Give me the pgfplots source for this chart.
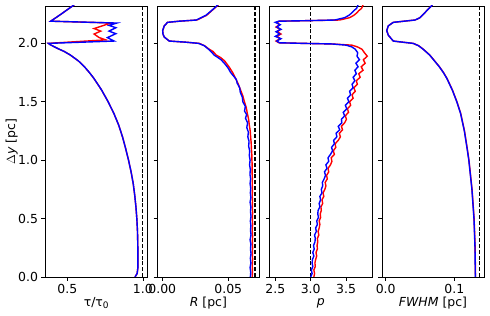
\documentclass[border=0pt]{standalone}
\usepackage{pgfplots}
\pgfplotsset{compat=1.18}
\usepackage{fontspec}
\setmainfont{DejaVu Sans}[ItalicFont={DejaVu Sans Oblique}]
\begin{document}
\begin{tikzpicture}
\useasboundingbox (0bp,0bp) rectangle (490bp,316bp);
\pgfplotsset{
  panel/.style={
    anchor=south west, scale only axis, width=102.4bp, height=271bp,
    ymin=0, ymax=2.32,
    ytick={0,0.5,1,1.5,2}, yticklabels={},
    scaled x ticks=false, scaled y ticks=false,
    tick align=outside, xtick pos=bottom, ytick pos=left,
    major tick length=3.5bp,
    every tick/.style={black, line width=0.6bp},
    axis line style={black, line width=0.6bp},
    tick label style={font=\fontsize{12.5}{14}\selectfont},
    label style={font=\fontsize{12.5}{14}\selectfont},
    /pgf/number format/assume math mode=true,
    xlabel style={at={(axis description cs:0.5,-0.097)}, anchor=center},
    clip=true,
  },
  rl/.style={red, line width=1.4bp},
  bl/.style={blue, line width=1.4bp},
  dl/.style={black, line width=1.1bp, dash pattern=on 4bp off 1.8bp},
}

% ---------- Panel 1: tau/tau0 ----------
\begin{axis}[panel, at={(45bp,39bp)}, xmin=0.352, xmax=1.03,
  xtick={0.5,1.0}, xticklabels={0.5,1.0},
  yticklabels={0.0,0.5,1.0,1.5,2.0},
  ylabel={$\Delta$\textit{y} [pc]}, ylabel style={at={(axis description cs:-0.325,0.5)}, anchor=center},
  xlabel={τ/τ\raisebox{-0.35ex}{\fontsize{9}{9}\selectfont 0}}]
\addplot[dl] coordinates {(1.0,0) (1.0,2.32)};
\addplot[rl] coordinates {
(0.948,0.00) (0.962,0.03) (0.967,0.08) (0.967,0.2) (0.966,0.3) (0.964,0.4) (0.960,0.5)
(0.954,0.6) (0.946,0.7) (0.936,0.8) (0.922,0.9) (0.905,1.0) (0.886,1.1) (0.865,1.2)
(0.840,1.3) (0.808,1.4) (0.770,1.5) (0.727,1.6) (0.676,1.7) (0.646,1.75) (0.613,1.8)
(0.573,1.85) (0.520,1.9) (0.480,1.93) (0.430,1.96) (0.385,1.99) (0.375,2.0)
(0.754,2.03) (0.710,2.05) (0.677,2.08) (0.721,2.105) (0.677,2.127) (0.732,2.15)
(0.765,2.165) (0.810,2.174) (0.390,2.19) (0.456,2.248) (0.545,2.33)};
\addplot[bl] coordinates {
(0.948,0.00) (0.962,0.03) (0.967,0.08) (0.967,0.2) (0.966,0.3) (0.964,0.4) (0.960,0.5)
(0.954,0.6) (0.946,0.7) (0.936,0.8) (0.922,0.9) (0.905,1.0) (0.886,1.1) (0.865,1.2)
(0.840,1.3) (0.808,1.4) (0.770,1.5) (0.727,1.6) (0.676,1.7) (0.646,1.75) (0.613,1.8)
(0.573,1.85) (0.520,1.9) (0.480,1.93) (0.430,1.96) (0.385,1.99) (0.375,2.0)
(0.810,2.02) (0.765,2.049) (0.821,2.083) (0.776,2.105) (0.821,2.134) (0.776,2.154)
(0.827,2.174) (0.390,2.19) (0.456,2.248) (0.545,2.33)};
\end{axis}

% ---------- Panel 2: R ----------
\begin{axis}[panel, at={(157.2bp,39bp)}, xmin=-0.00386, xmax=0.0737,
  xtick={0,0.05}, xticklabels={0.00,0.05},
  xlabel={\textit{R} [pc]}]
\addplot[dl] coordinates {(0.0702,0) (0.0702,2.32)};
\addplot[rl] coordinates {
(0.0681,0.00) (0.0683,0.05) (0.0681,0.10) (0.0684,0.15) (0.0682,0.20) (0.0684,0.25)
(0.0682,0.30) (0.0684,0.35) (0.0681,0.40) (0.0684,0.45) (0.0682,0.50) (0.0684,0.55)
(0.0682,0.60) (0.0683,0.65) (0.0681,0.70) (0.0683,0.75) (0.0681,0.80) (0.0682,0.85)
(0.0680,0.90) (0.0681,0.95) (0.0679,1.00) (0.0678,1.05) (0.0675,1.10) (0.0673,1.15)
(0.0669,1.20) (0.0666,1.25) (0.0659,1.30) (0.0654,1.35) (0.0644,1.40) (0.0636,1.45)
(0.0622,1.50) (0.0610,1.55) (0.0593,1.60) (0.0576,1.65) (0.0555,1.70) (0.0533,1.75)
(0.0505,1.80) (0.0472,1.85) (0.0440,1.88) (0.0408,1.90) (0.0385,1.93) (0.0355,1.95)
(0.0320,1.98) (0.0280,2.00) (0.0180,2.01) (0.0053,2.02) (0.0015,2.054) (0.0005,2.08)
(0.0003,2.11) (0.0015,2.15) (0.0040,2.18) (0.0130,2.19) (0.0262,2.20) (0.0335,2.24)
(0.0375,2.28) (0.0425,2.33)};
\addplot[bl] coordinates {
(0.0667,0.00) (0.0670,0.04) (0.0665,0.08) (0.0671,0.12) (0.0667,0.16) (0.0672,0.20)
(0.0668,0.24) (0.0671,0.28) (0.0665,0.32) (0.0672,0.36) (0.0668,0.40) (0.0671,0.44)
(0.0667,0.48) (0.0672,0.52) (0.0668,0.56) (0.0671,0.60) (0.0665,0.64) (0.0671,0.68)
(0.0667,0.72) (0.0670,0.76) (0.0665,0.80) (0.0669,0.84) (0.0664,0.88) (0.0667,0.92)
(0.0661,0.96) (0.0665,1.00) (0.0659,1.04) (0.0662,1.08) (0.0654,1.12) (0.0657,1.16)
(0.0648,1.20) (0.0652,1.24) (0.0640,1.28) (0.0646,1.32) (0.0630,1.36) (0.0639,1.39)
(0.0623,1.42) (0.0629,1.46) (0.0610,1.50) (0.0606,1.54) (0.0591,1.58) (0.0586,1.62)
(0.0567,1.66) (0.0561,1.69) (0.0540,1.72) (0.0518,1.75) (0.0498,1.79) (0.0470,1.83)
(0.0445,1.86) (0.0420,1.88) (0.0392,1.90) (0.0378,1.92) (0.0350,1.95) (0.0318,1.98)
(0.0275,2.00) (0.0180,2.01) (0.0053,2.02) (0.0015,2.054) (0.0005,2.08)
(0.0003,2.11) (0.0015,2.15) (0.0040,2.18) (0.0130,2.19) (0.0258,2.20) (0.0330,2.24)
(0.0372,2.28) (0.0422,2.33)};
\end{axis}

% ---------- Panel 3: p ----------
\begin{axis}[panel, at={(269.6bp,39bp)}, xmin=2.419, xmax=3.867,
  xtick={2.5,3.0,3.5}, xticklabels={2.5,3.0,3.5},
  xlabel={\textit{p}}]
\addplot[dl] coordinates {(3.0,0) (3.0,2.32)};
\addplot[rl] coordinates {
(3.045,0.00) (3.055,0.03) (3.045,0.06) (3.065,0.09) (3.06,0.12) (3.07,0.15) (3.085,0.18)
(3.075,0.21) (3.095,0.24) (3.09,0.27) (3.10,0.30) (3.095,0.33) (3.115,0.36) (3.105,0.39)
(3.12,0.42) (3.13,0.45) (3.12,0.48) (3.14,0.51) (3.135,0.54) (3.15,0.57) (3.145,0.60)
(3.17,0.63) (3.16,0.66) (3.185,0.69) (3.175,0.72) (3.20,0.75) (3.215,0.78) (3.205,0.81)
(3.235,0.84) (3.225,0.87) (3.255,0.90) (3.245,0.93) (3.28,0.96) (3.30,0.99) (3.29,1.02)
(3.335,1.05) (3.32,1.08) (3.355,1.11) (3.345,1.14) (3.39,1.17) (3.42,1.20) (3.405,1.23)
(3.45,1.26) (3.435,1.29) (3.48,1.32) (3.505,1.35) (3.49,1.38) (3.535,1.41) (3.52,1.44)
(3.565,1.47) (3.55,1.50) (3.60,1.53) (3.585,1.56) (3.63,1.59) (3.61,1.62) (3.66,1.65)
(3.645,1.68) (3.70,1.71) (3.68,1.74) (3.74,1.77) (3.715,1.80) (3.77,1.83) (3.745,1.86)
(3.80,1.89) (3.76,1.92) (3.725,1.95) (3.66,1.97) (3.58,1.985) (3.30,1.995) (2.90,2.0)
(2.55,2.005) (2.51,2.02) (2.57,2.04) (2.52,2.06) (2.58,2.08) (2.53,2.10) (2.57,2.12)
(2.51,2.14) (2.56,2.16) (2.52,2.18) (2.56,2.19) (3.00,2.195) (3.41,2.20) (3.55,2.22)
(3.61,2.24) (3.65,2.26) (3.68,2.28) (3.72,2.30) (3.74,2.33)};
\addplot[bl] coordinates {
(3.00,0.00) (3.02,0.03) (3.01,0.06) (3.03,0.09) (3.02,0.12) (3.025,0.15) (3.045,0.18)
(3.03,0.21) (3.05,0.24) (3.04,0.27) (3.06,0.30) (3.065,0.33) (3.055,0.36) (3.08,0.39)
(3.07,0.42) (3.095,0.45) (3.085,0.48) (3.11,0.51) (3.10,0.54) (3.105,0.57) (3.13,0.60)
(3.12,0.63) (3.14,0.66) (3.13,0.69) (3.16,0.72) (3.15,0.75) (3.17,0.78) (3.165,0.81)
(3.19,0.84) (3.21,0.87) (3.195,0.90) (3.23,0.93) (3.215,0.96) (3.255,0.99) (3.245,1.02)
(3.28,1.05) (3.31,1.08) (3.295,1.11) (3.335,1.14) (3.325,1.17) (3.37,1.20) (3.36,1.23)
(3.41,1.26) (3.39,1.29) (3.44,1.32) (3.435,1.35) (3.48,1.38) (3.46,1.41) (3.51,1.44)
(3.49,1.47) (3.54,1.50) (3.52,1.53) (3.565,1.56) (3.55,1.59) (3.60,1.62) (3.585,1.65)
(3.625,1.68) (3.60,1.71) (3.645,1.74) (3.625,1.77) (3.67,1.80) (3.64,1.83) (3.69,1.86)
(3.655,1.89) (3.665,1.92) (3.63,1.95) (3.58,1.97) (3.50,1.985) (3.30,1.995) (2.90,2.0)
(2.56,2.005) (2.52,2.02) (2.58,2.04) (2.50,2.06) (2.56,2.08) (2.51,2.10) (2.58,2.12)
(2.52,2.14) (2.57,2.16) (2.50,2.18) (2.55,2.19) (3.00,2.195) (3.34,2.20) (3.48,2.22)
(3.54,2.24) (3.58,2.26) (3.61,2.28) (3.65,2.30) (3.67,2.33)};
\end{axis}

% ---------- Panel 4: FWHM ----------
\begin{axis}[panel, at={(381.8bp,39bp)}, xmin=-0.00568, xmax=0.1434,
  xtick={0,0.1}, xticklabels={0.0,0.1},
  xlabel={\textit{FWHM} [pc]}]
\addplot[dl] coordinates {(0.1364,0) (0.1364,2.32)};
\addplot[rl] coordinates {
(0.1307,0.00) (0.1302,0.25) (0.1287,0.5) (0.1257,0.75) (0.1212,1.0) (0.1187,1.1)
(0.1147,1.25) (0.1092,1.4) (0.1037,1.5) (0.0972,1.6) (0.0892,1.7) (0.0842,1.75)
(0.0782,1.8) (0.0712,1.85) (0.0642,1.9) (0.0547,1.95) (0.0480,1.98) (0.0400,2.0)
(0.0250,2.01) (0.0110,2.02) (0.0038,2.07) (0.0015,2.11) (0.0038,2.15) (0.0110,2.18)
(0.0427,2.20) (0.0500,2.22) (0.0680,2.33)};
\addplot[bl] coordinates {
(0.1305,0.00) (0.1300,0.25) (0.1285,0.5) (0.1255,0.75) (0.1210,1.0) (0.1185,1.1)
(0.1145,1.25) (0.1090,1.4) (0.1035,1.5) (0.0970,1.6) (0.0890,1.7) (0.0840,1.75)
(0.0780,1.8) (0.0710,1.85) (0.0640,1.9) (0.0545,1.95) (0.0478,1.98) (0.0400,2.0)
(0.0250,2.01) (0.0110,2.02) (0.0038,2.07) (0.0015,2.11) (0.0038,2.15) (0.0110,2.18)
(0.0427,2.20) (0.0500,2.22) (0.0680,2.33)};
\end{axis}
\end{tikzpicture}
\end{document}
